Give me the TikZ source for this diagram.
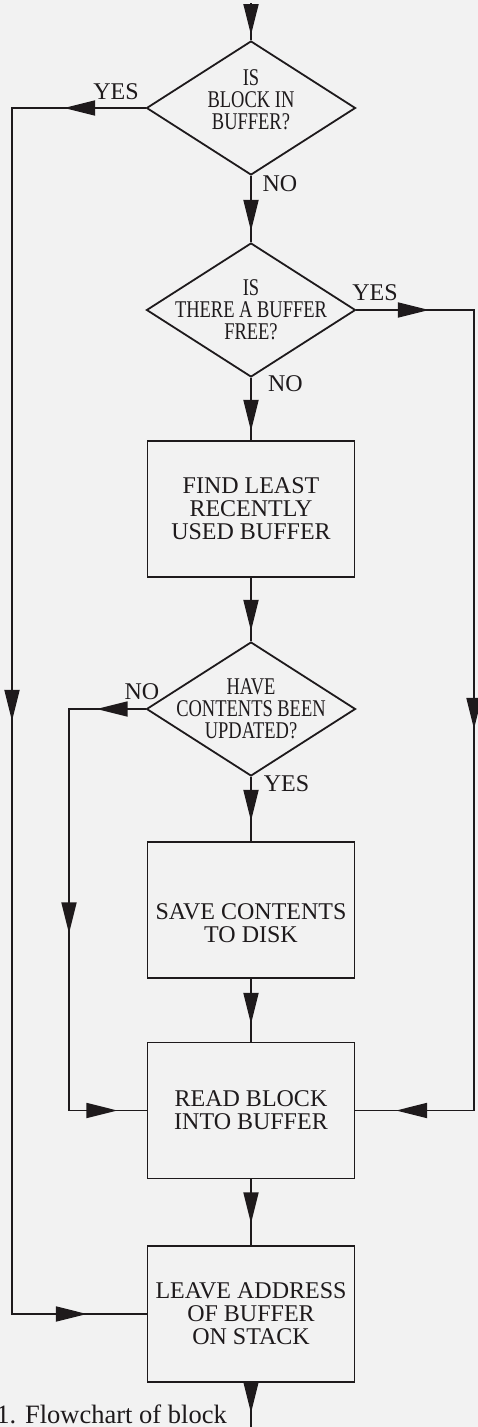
\documentclass[tikz,border=0pt]{standalone}
\usepackage{fontspec}
\setmainfont{Liberation Serif}
\newfontfamily\narrowserif[FakeStretch=0.77]{Liberation Serif}
\usetikzlibrary{shapes.geometric,arrows.meta,decorations.markings}
\definecolor{paper}{RGB}{242,242,242}
\definecolor{ink}{RGB}{30,26,28}
\begin{document}
\begin{tikzpicture}[x=1pt,y=-1pt,
  decision/.style={shape=diamond, draw=ink, text=ink, line width=1.8pt,
    minimum width=209pt, minimum height=134pt, inner sep=-30pt, align=center,
    font=\narrowserif\fontsize{24}{22}\selectfont},
  process/.style={rectangle, draw=ink, text=ink, line width=1.8pt,
    minimum width=207pt, minimum height=136pt, inner sep=0pt, align=center,
    font=\fontsize{24}{23}\selectfont},
  answer/.style={inner sep=0pt, text=ink, font=\fontsize{24}{24}\selectfont},
  flow/.style={draw=ink, line width=1.8pt},
  tip/.style={postaction={decorate, decoration={markings,
    mark=at position #1 with {\arrow{Triangle[length=31pt,width=15pt]}}}}},
]
% page
\fill[paper] (0,0) rectangle (478,1427);
\useasboundingbox (0,0) rectangle (478,1427);

% decisions and steps
\node[decision] (d1) at (251,108) {IS\\BLOCK IN\\BUFFER?\rule[-16pt]{0pt}{16pt}};
\node[decision] (d2) at (251,310) {IS\\THERE A BUFFER\\FREE?};
\node[process]  (b1) at (251,509) {FIND LEAST\\RECENTLY\\USED BUFFER};
\node[decision] (d3) at (251,709) {HAVE\\CONTENTS BEEN\\UPDATED?};
\node[process]  (b2) at (251,910) {\rule{0pt}{42pt}SAVE CONTENTS\\TO DISK};
\node[process]  (b3) at (251,1110.5) {READ BLOCK\\INTO BUFFER};
\node[process]  (b4) at (251,1314) {LEAVE ADDRESS\\OF BUFFER\\ON STACK};

% branch labels
\node[answer] (yes1) at (116,92) {YES};
\node[answer] (no1) at (280,184) {NO};
\node[answer] (yes2) at (375,292.5) {YES};
\node[answer] (no2) at (285.5,383.5) {NO};
\node[answer] (no3) at (142,691.5) {NO};
\node[answer] (yes3) at (286.5,783.5) {YES};

% caption
\node[anchor=base east, inner sep=0pt, text=ink, font=\fontsize{26.5}{26.5}\selectfont]
  (caption) at (227,1423) {1. Flowchart of block};

% entry, exit and the rails of the loops
\coordinate (entry) at (251,3);
\coordinate (exit) at (251,1427);
\coordinate (leftrail) at (12,0);
\coordinate (rightrail) at (474,0);
\coordinate (innerrail) at (69,0);

% main line
\draw[flow, tip=32pt] (entry) -- (d1.north);
\draw[flow, tip=55pt] (d1.south) -- (d2.north);
\draw[flow, tip=53pt] (d2.south) -- (b1.north);
\draw[flow, tip=53pt] (b1.south) -- (d3.north);
\draw[flow, tip=44pt] (d3.south) -- (b2.north);
\draw[flow, tip=45pt] (b2.south) -- (b3.north);
\draw[flow, tip=44pt] (b3.south) -- (b4.north);
\draw[flow, tip=30pt] (b4.south) -- (exit);

% loops
\draw[flow, tip=81.5pt, tip=746.5pt, tip=1414.5pt]
  (d1.west) -| (leftrail |- b4.west) -- (b4.west);
\draw[flow, tip=72.5pt, tip=536.5pt, tip=996pt]
  (d2.east) -| (rightrail |- b3.east) -- (b3.east);
\draw[flow, tip=49pt, tip=301pt, tip=526.5pt]
  (d3.west) -| (innerrail |- b3.west) -- (b3.west);
\end{tikzpicture}
\end{document}
